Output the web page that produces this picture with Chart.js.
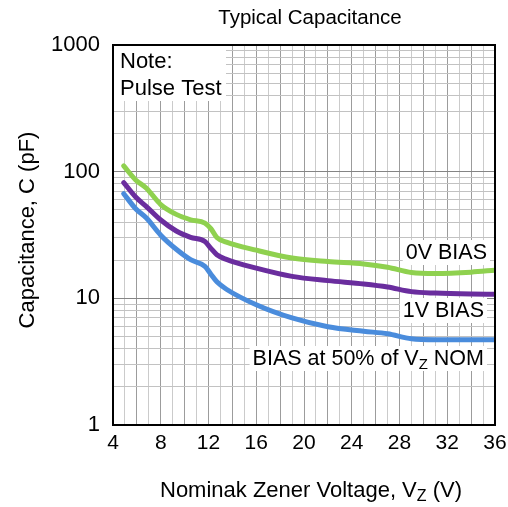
<!DOCTYPE html>
<html>
<head>
<meta charset="utf-8">
<script src="https://cdn.jsdelivr.net/npm/chart.js@4/dist/chart.umd.min.js"></script>
<style>
  html, body { margin: 0; padding: 0; background: #fff; }
  #wrap { width: 508px; height: 507px; }
</style>
</head>
<body>
<div id="wrap"><canvas id="chart"></canvas></div>
<script>
// values
var voltage = [4.9, 5.9, 6.8, 8, 9.3, 10.5, 11.7, 12.2, 12.7, 13.5, 16, 19, 22, 25, 27, 29, 31, 34, 36];
var bias0V  = [111, 86, 74, 55, 46, 41.7, 39.2, 35.5, 30.2, 27.8, 24, 20.8, 19.5, 18.7, 17.6, 16, 15.7, 16.1, 16.7];
var bias1V  = [82, 63, 53, 41.5, 34, 30.3, 28.1, 24.8, 22.1, 20.3, 17.3, 14.9, 13.8, 13, 12.3, 11.3, 11, 10.8, 10.75];
var bias50  = [67, 51, 43, 31.5, 24.4, 20.2, 17.9, 15.5, 13.5, 11.8, 8.9, 7.0, 5.97, 5.5, 5.25, 4.8, 4.72, 4.72, 4.72];

var xLabels = [4, 8, 12, 16, 20, 24, 28, 32, 36];
var yTicks = [1, 2, 3, 4, 5, 6, 7, 8, 9, 10, 20, 30, 40, 50, 60, 70, 80, 90,
              100, 200, 300, 400, 500, 600, 700, 800, 900, 1000];
var yLabels = [1, 10, 100, 1000];

var FONT = '"Liberation Sans", Arial, sans-serif';

function points(vals) {
  return voltage.map(function (v, i) { return { x: v, y: vals[i] }; });
}

// label with white box, text may contain a subscript part
function boxedText(c, parts, right, baseline) {
  var w = 0;
  parts.forEach(function (p) {
    c.font = (p.sub ? '15px ' : '21.5px ') + FONT;
    p.w = c.measureText(p.t).width;
    w += p.w;
  });
  var x = right - w;
  c.fillStyle = '#fff';
  c.fillRect(x - 3, baseline - 19, w + 6, 25);
  c.fillStyle = '#000';
  parts.forEach(function (p) {
    c.font = (p.sub ? '15px ' : '21.5px ') + FONT;
    c.fillText(p.t, x, baseline + (p.sub ? 4 : 0));
    x += p.w;
  });
}

var texts = {
  id: 'texts',
  beforeDatasetsDraw: function (chart) {
    var c = chart.ctx, a = chart.chartArea;
    c.save();
    c.textBaseline = 'alphabetic';
    c.fillStyle = '#fff';
    c.fillRect(a.left, a.top, 113, 56);
    c.fillStyle = '#000';
    c.font = '22px ' + FONT;
    c.fillText('Note:', a.left + 7, 68);
    c.fillText('Pulse Test', a.left + 7, 95);
    boxedText(c, [{ t: '0V BIAS' }], 487, 259);
    boxedText(c, [{ t: '1V BIAS' }], 484, 317);
    boxedText(c, [{ t: 'BIAS at 50% of V' }, { t: 'Z', sub: true }, { t: ' NOM' }], 484, 365);
    c.restore();
  },
  afterDraw: function (chart) {
    var c = chart.ctx, a = chart.chartArea;
    c.save();
    c.strokeStyle = '#000';
    c.lineWidth = 2;
    c.strokeRect(a.left, a.top, a.right - a.left, a.bottom - a.top);

    c.fillStyle = '#000';
    c.textBaseline = 'alphabetic';
    c.textAlign = 'center';
    c.font = '20.5px ' + FONT;
    c.fillText('Typical Capacitance', 310, 24);

    // y axis title
    c.save();
    c.translate(34, 230);
    c.rotate(-Math.PI / 2);
    c.font = '22px ' + FONT;
    c.fillText('Capacitance, C (pF)', 0, 0);
    c.restore();

    // x axis title with subscript
    var parts = [{ t: 'Nominak Zener Voltage, V' }, { t: 'Z', sub: true }, { t: ' (V)' }];
    var w = 0;
    parts.forEach(function (p) {
      c.font = (p.sub ? '16px ' : '22px ') + FONT;
      p.w = c.measureText(p.t).width;
      w += p.w;
    });
    c.textAlign = 'left';
    var x = 311 - w / 2;
    parts.forEach(function (p) {
      c.font = (p.sub ? '16px ' : '22px ') + FONT;
      c.fillText(p.t, x, 497 + (p.sub ? 4 : 0));
      x += p.w;
    });
    c.restore();
  }
};

var ctx = document.getElementById('chart').getContext('2d');
var chart = new Chart(ctx, {
  type: 'line',
  data: {
    datasets: [
      { label: '0V BIAS', data: points(bias0V), borderColor: '#8fd14f' },
      { label: '1V BIAS', data: points(bias1V), borderColor: '#6a2d9e' },
      { label: 'BIAS at 50% of VZ NOM', data: points(bias50), borderColor: '#4a8cdc' }
    ]
  },
  options: {
    responsive: true,
    maintainAspectRatio: false,
    animation: false,
    layout: { padding: { top: 45, right: 13, bottom: 0, left: 0 } },
    elements: {
      point: { radius: 0 },
      line: { borderWidth: 5, tension: 0.4, cubicInterpolationMode: 'monotone', borderCapStyle: 'round' }
    },
    plugins: {
      legend: { display: false },
      tooltip: { enabled: false }
    },
    scales: {
      x: {
        type: 'linear',
        min: 4,
        max: 36,
        afterFit: function (s) { s.height = 82; s.paddingLeft = 0; s.paddingRight = 0; },
        grid: {
          drawTicks: false,
          color: function (c) { return c.tick.value % 2 === 0 ? '#9c9c9c' : '#cbcbcb'; },
          lineWidth: 1
        },
        border: { display: false },
        ticks: {
          stepSize: 1,
          autoSkip: false,
          maxRotation: 0,
          padding: 6,
          color: '#000',
          font: { family: FONT, size: 21 },
          callback: function (v) { return xLabels.indexOf(v) >= 0 ? String(v) : ''; }
        }
      },
      y: {
        type: 'logarithmic',
        min: 1,
        max: 1000,
        afterFit: function (s) { s.width = 113; s.paddingTop = 0; s.paddingBottom = 0; },
        afterBuildTicks: function (s) {
          s.ticks = yTicks.map(function (v) { return { value: v }; });
        },
        grid: {
          drawTicks: false,
          color: function (c) { return yLabels.indexOf(c.tick.value) >= 0 ? '#858585' : '#c2c2c2'; },
          lineWidth: 1
        },
        border: { display: false },
        ticks: {
          autoSkip: false,
          padding: 13,
          color: '#000',
          font: { family: FONT, size: 22 },
          callback: function (v) { return yLabels.indexOf(v) >= 0 ? String(v) : ''; }
        }
      }
    }
  },
  plugins: [texts]
});
</script>
</body>
</html>
